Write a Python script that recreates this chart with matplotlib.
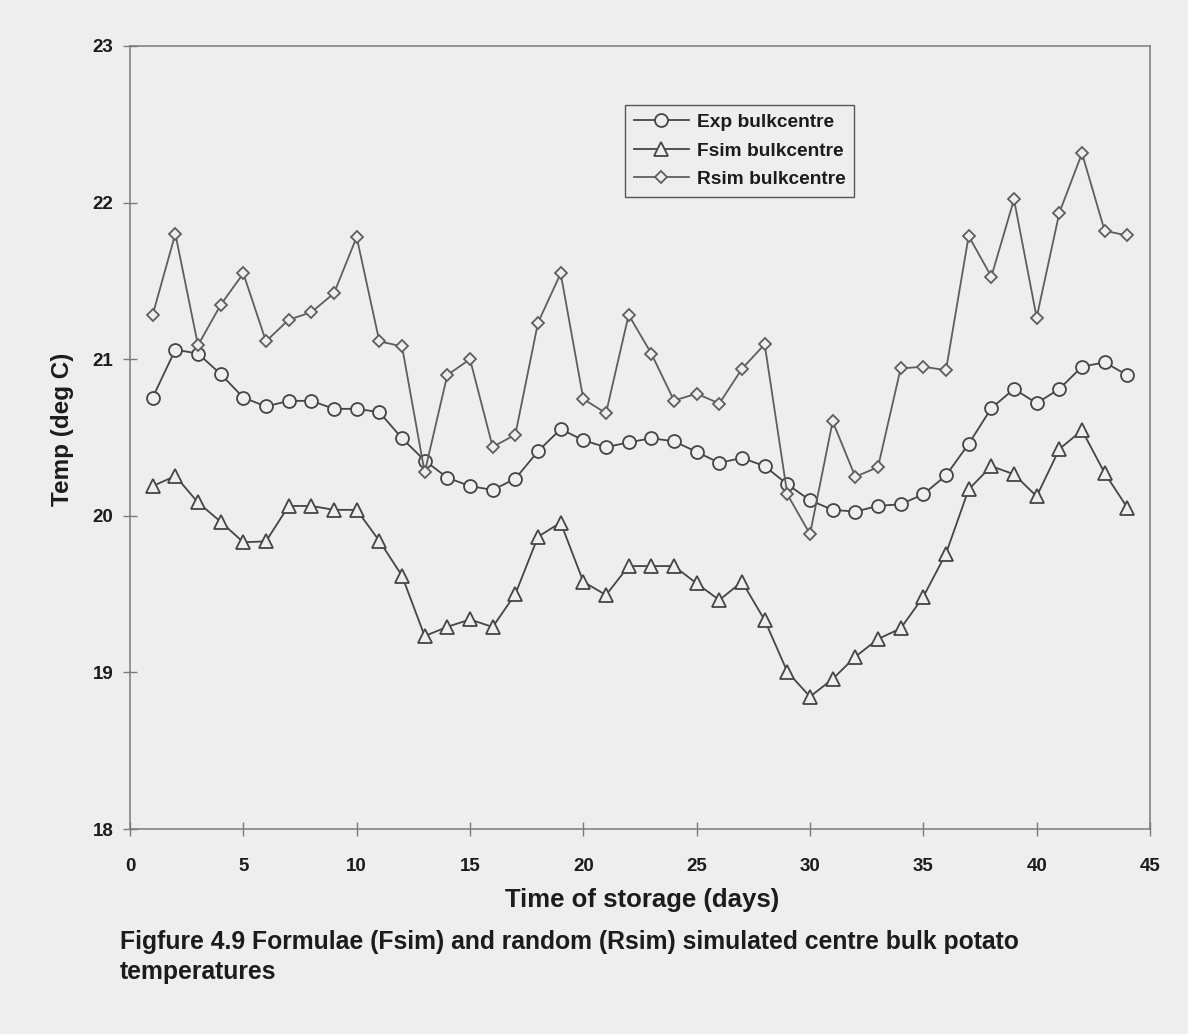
import matplotlib
matplotlib.use("Agg")
import matplotlib.pyplot as plt

days = list(range(1, 45))
exp_bulk = [20.755, 21.061, 21.036, 20.905, 20.755, 20.698, 20.734, 20.734, 20.683, 20.683,
            20.662, 20.495, 20.353, 20.243, 20.190, 20.165, 20.237, 20.412, 20.554, 20.482,
            20.438, 20.469, 20.495, 20.476, 20.408, 20.338, 20.370, 20.317, 20.201, 20.099,
            20.038, 20.027, 20.063, 20.074, 20.137, 20.258, 20.459, 20.687, 20.810, 20.719,
            20.810, 20.952, 20.980, 20.898]
fsim_bulk = [20.190, 20.254, 20.085, 19.962, 19.831, 19.837, 20.063, 20.063, 20.038, 20.038,
             19.840, 19.617, 19.232, 19.291, 19.338, 19.290, 19.500, 19.866, 19.957, 19.579,
             19.494, 19.679, 19.679, 19.679, 19.568, 19.462, 19.579, 19.334, 19.004, 18.845,
             18.958, 19.100, 19.213, 19.281, 19.483, 19.759, 20.169, 20.317, 20.265, 20.124,
             20.426, 20.546, 20.273, 20.052]
rsim_bulk = [21.283, 21.801, 21.089, 21.347, 21.548, 21.114, 21.252, 21.300, 21.421, 21.780,
             21.114, 21.082, 20.277, 20.899, 21.000, 20.440, 20.518, 21.233, 21.548, 20.746,
             20.655, 21.283, 21.036, 20.736, 20.780, 20.717, 20.939, 21.095, 20.137, 19.883,
             20.603, 20.249, 20.311, 20.941, 20.952, 20.930, 21.787, 21.527, 22.020, 21.266,
             21.935, 22.315, 21.820, 21.790]

series_labels = ["Exp bulkcentre", "Fsim bulkcentre", "Rsim bulkcentre"]
x_ticks = [0, 5, 10, 15, 20, 25, 30, 35, 40, 45]
y_ticks = [18, 19, 20, 21, 22, 23]
x_label = "Time of storage (days)"
y_label = "Temp (deg C)"
caption_line1 = "Figfure 4.9 Formulae (Fsim) and random (Rsim) simulated centre bulk potato"
caption_line2 = "temperatures"

bg = "#eeeeee"
txt = "#1c1c1c"
plt.rcParams["font.family"] = ["Liberation Sans", "DejaVu Sans"]
plt.rcParams["font.weight"] = "bold"

fig = plt.figure(figsize=(11.88, 10.34), dpi=100, facecolor=bg)
ax = fig.add_axes([130 / 1188, 1 - 829 / 1034, 1020 / 1188, 783 / 1034])
ax.set_facecolor(bg)

line_kw = dict(linewidth=1.3, markeredgewidth=1.3, markerfacecolor=bg)
ax.plot(days, exp_bulk, marker="o", markersize=9.3, color="#454545", label=series_labels[0], **line_kw)
ax.plot(days, fsim_bulk, marker="^", markersize=9.8, color="#454545", label=series_labels[1], **line_kw)
ax.plot(days, rsim_bulk, marker="D", markersize=6.5, color="#5e5e5e", label=series_labels[2], **line_kw)

ax.set_xlim(0, 45)
ax.set_ylim(18, 23)
ax.set_xticks(x_ticks)
ax.set_yticks(y_ticks)
for s in ax.spines.values():
    s.set_color("#7a7a7a")
    s.set_linewidth(1.1)
ax.tick_params(axis="x", direction="inout", length=10, width=1, color="#7a7a7a",
               labelsize=13.5, pad=16, labelcolor=txt)
ax.tick_params(axis="y", direction="inout", length=10, width=1, color="#7a7a7a",
               labelsize=13.5, pad=7, labelcolor=txt)
for lab in ax.get_xticklabels() + ax.get_yticklabels():
    lab.set_fontweight("bold")

ax.set_xlabel(x_label, fontsize=18.5, fontweight="bold", color=txt, va="center")
ax.xaxis.set_label_coords(0.502, -0.091)
ax.set_ylabel(y_label, fontsize=17.5, fontweight="bold", color=txt, va="center")
ax.yaxis.set_label_coords(-0.066, 0.51)

leg = ax.legend(loc="upper left", bbox_to_anchor=((625 - 130) / 1020, 1 - (105 - 46) / 783),
                fontsize=13.8, frameon=True, fancybox=False, edgecolor="#555555",
                facecolor=bg, framealpha=1, handlelength=2.9, borderpad=0.45,
                labelspacing=0.58, handletextpad=0.4, borderaxespad=0)
leg.get_frame().set_linewidth(1.0)
for t in leg.get_texts():
    t.set_fontweight("bold")
    t.set_color(txt)

fig.text(120 / 1188, 1 - 942 / 1034, caption_line1, fontsize=17.8, fontweight="bold",
         color=txt, ha="left", va="center")
fig.text(120 / 1188, 1 - 972 / 1034, caption_line2, fontsize=17.8, fontweight="bold",
         color=txt, ha="left", va="center")

fig.savefig("out.png", dpi=100, facecolor=bg)
